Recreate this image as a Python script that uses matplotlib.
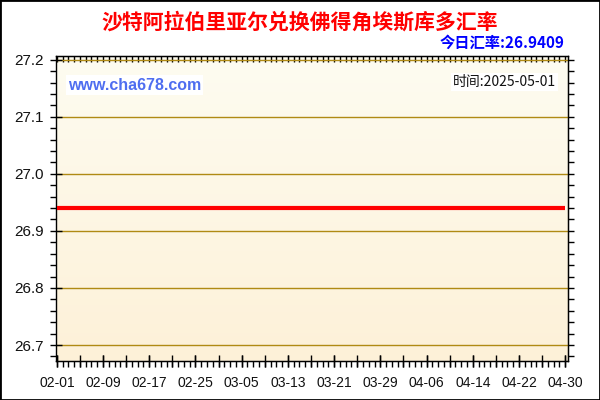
import numpy as np
import pandas as pd
import matplotlib
matplotlib.use('Agg')
import matplotlib.pyplot as plt
import matplotlib.dates as mdates
from matplotlib.ticker import MultipleLocator, FixedLocator, FormatStrFormatter
from matplotlib.colors import LinearSegmentedColormap
from matplotlib.patches import Rectangle

TITLE = '沙特阿拉伯里亚尔兑换佛得角埃斯库多汇率'
TODAY_RATE = 26.9409
QUERY_DATE = '2025-05-01'

dates = ['2025-02-01', '2025-02-09', '2025-02-17', '2025-02-25', '2025-03-05', '2025-03-13',
         '2025-03-21', '2025-03-29', '2025-04-06', '2025-04-14', '2025-04-22', '2025-04-30']
rates = [26.9409, 26.9409, 26.9409, 26.9409, 26.9409, 26.9409,
         26.9409, 26.9409, 26.9409, 26.9409, 26.9409, 26.9409]

CJK = ['Noto Sans CJK SC', 'DejaVu Sans']
plt.rcParams['font.family'] = ['Liberation Sans', 'DejaVu Sans']

x = mdates.date2num(pd.to_datetime(dates))

fig = plt.figure(figsize=(6, 4), dpi=100)
ax = fig.add_axes([0.0928, 0.0975, 0.854, 0.7633])

x0, x1 = x[0] - 0.2, x[-1] + 0.5
y0, y1 = 26.672, 27.207
ax.set_xlim(x0, x1)
ax.set_ylim(y0, y1)

# cream gradient background
cmap = LinearSegmentedColormap.from_list('bg', ['#FDF1D8', '#FEFCF1'])
grad = np.linspace(0, 1, 256).reshape(-1, 1)
ax.imshow(grad, extent=[x0, x1, y0, y1], origin='lower', aspect='auto', cmap=cmap, zorder=0)

ax.grid(axis='y', which='major', color='#B08A14', lw=1, zorder=1)
ax.plot(x, rates, color='#FF0000', lw=3, zorder=3, solid_capstyle='butt')

# x ticks
major_x = mdates.date2num(pd.date_range(dates[0], dates[-1], freq='8D'))
mid_x = mdates.date2num(pd.date_range(dates[0], dates[-1], freq='4D'))
minor_x = mdates.date2num(pd.date_range(dates[0], '2025-05-01', freq='D'))
ax.xaxis.set_major_locator(FixedLocator(major_x))
ax.xaxis.set_minor_locator(FixedLocator(minor_x))
ax.xaxis.set_major_formatter(mdates.DateFormatter('%m-%d'))

ax.yaxis.set_major_locator(MultipleLocator(0.1))
ax.yaxis.set_minor_locator(MultipleLocator(0.02))
ax.yaxis.set_major_formatter(FormatStrFormatter('%.1f'))

ax.tick_params(which='major', direction='inout', length=9, width=1,
               labelcolor='#111111', top=False, right=False)
ax.tick_params(axis='x', which='major', pad=6, labelsize=10)
ax.tick_params(axis='y', which='major', pad=4, labelsize=11)
ax.tick_params(which='minor', direction='out', length=4, width=1, top=False, right=False)

mid = ax.secondary_xaxis('bottom')
mid.xaxis.set_major_locator(FixedLocator(mid_x))
mid.tick_params(direction='inout', length=8, width=1, labelbottom=False)

top = ax.secondary_xaxis('top')
top.xaxis.set_major_locator(FixedLocator(minor_x))
top.tick_params(direction='in', length=4, width=1, labeltop=False)

right = ax.secondary_yaxis('right')
right.yaxis.set_major_locator(MultipleLocator(0.02))
right.tick_params(direction='out', length=4, width=1, labelright=False)

for s in ax.spines.values():
    s.set_linewidth(1)

fig.text(0.5, 0.945, TITLE, ha='center', va='center', fontsize=15, fontweight='bold',
         color='#FF0000', family=CJK)
fig.text(0.94, 0.892, '今日汇率:%.4f' % TODAY_RATE, ha='right', va='center', fontsize=11,
         fontweight='bold', color='#0000FF', family=CJK)
fig.text(68 / 600, 1 - 85 / 400, 'www.cha678.com', ha='left', va='center', fontsize=11.5,
         fontweight='bold', color='#4F6EF0',
         bbox=dict(facecolor='white', edgecolor='none', pad=1.5))
fig.text(556 / 600, 1 - 82 / 400, '时间:' + QUERY_DATE, ha='right', va='center', fontsize=10,
         color='#111111', family=CJK,
         bbox=dict(facecolor='white', edgecolor='none', pad=1.5))

fig.patches.append(Rectangle((0, 0), 1, 1, transform=fig.transFigure, fill=False,
                             edgecolor='black', lw=2))

fig.savefig('out.png', dpi=100)
